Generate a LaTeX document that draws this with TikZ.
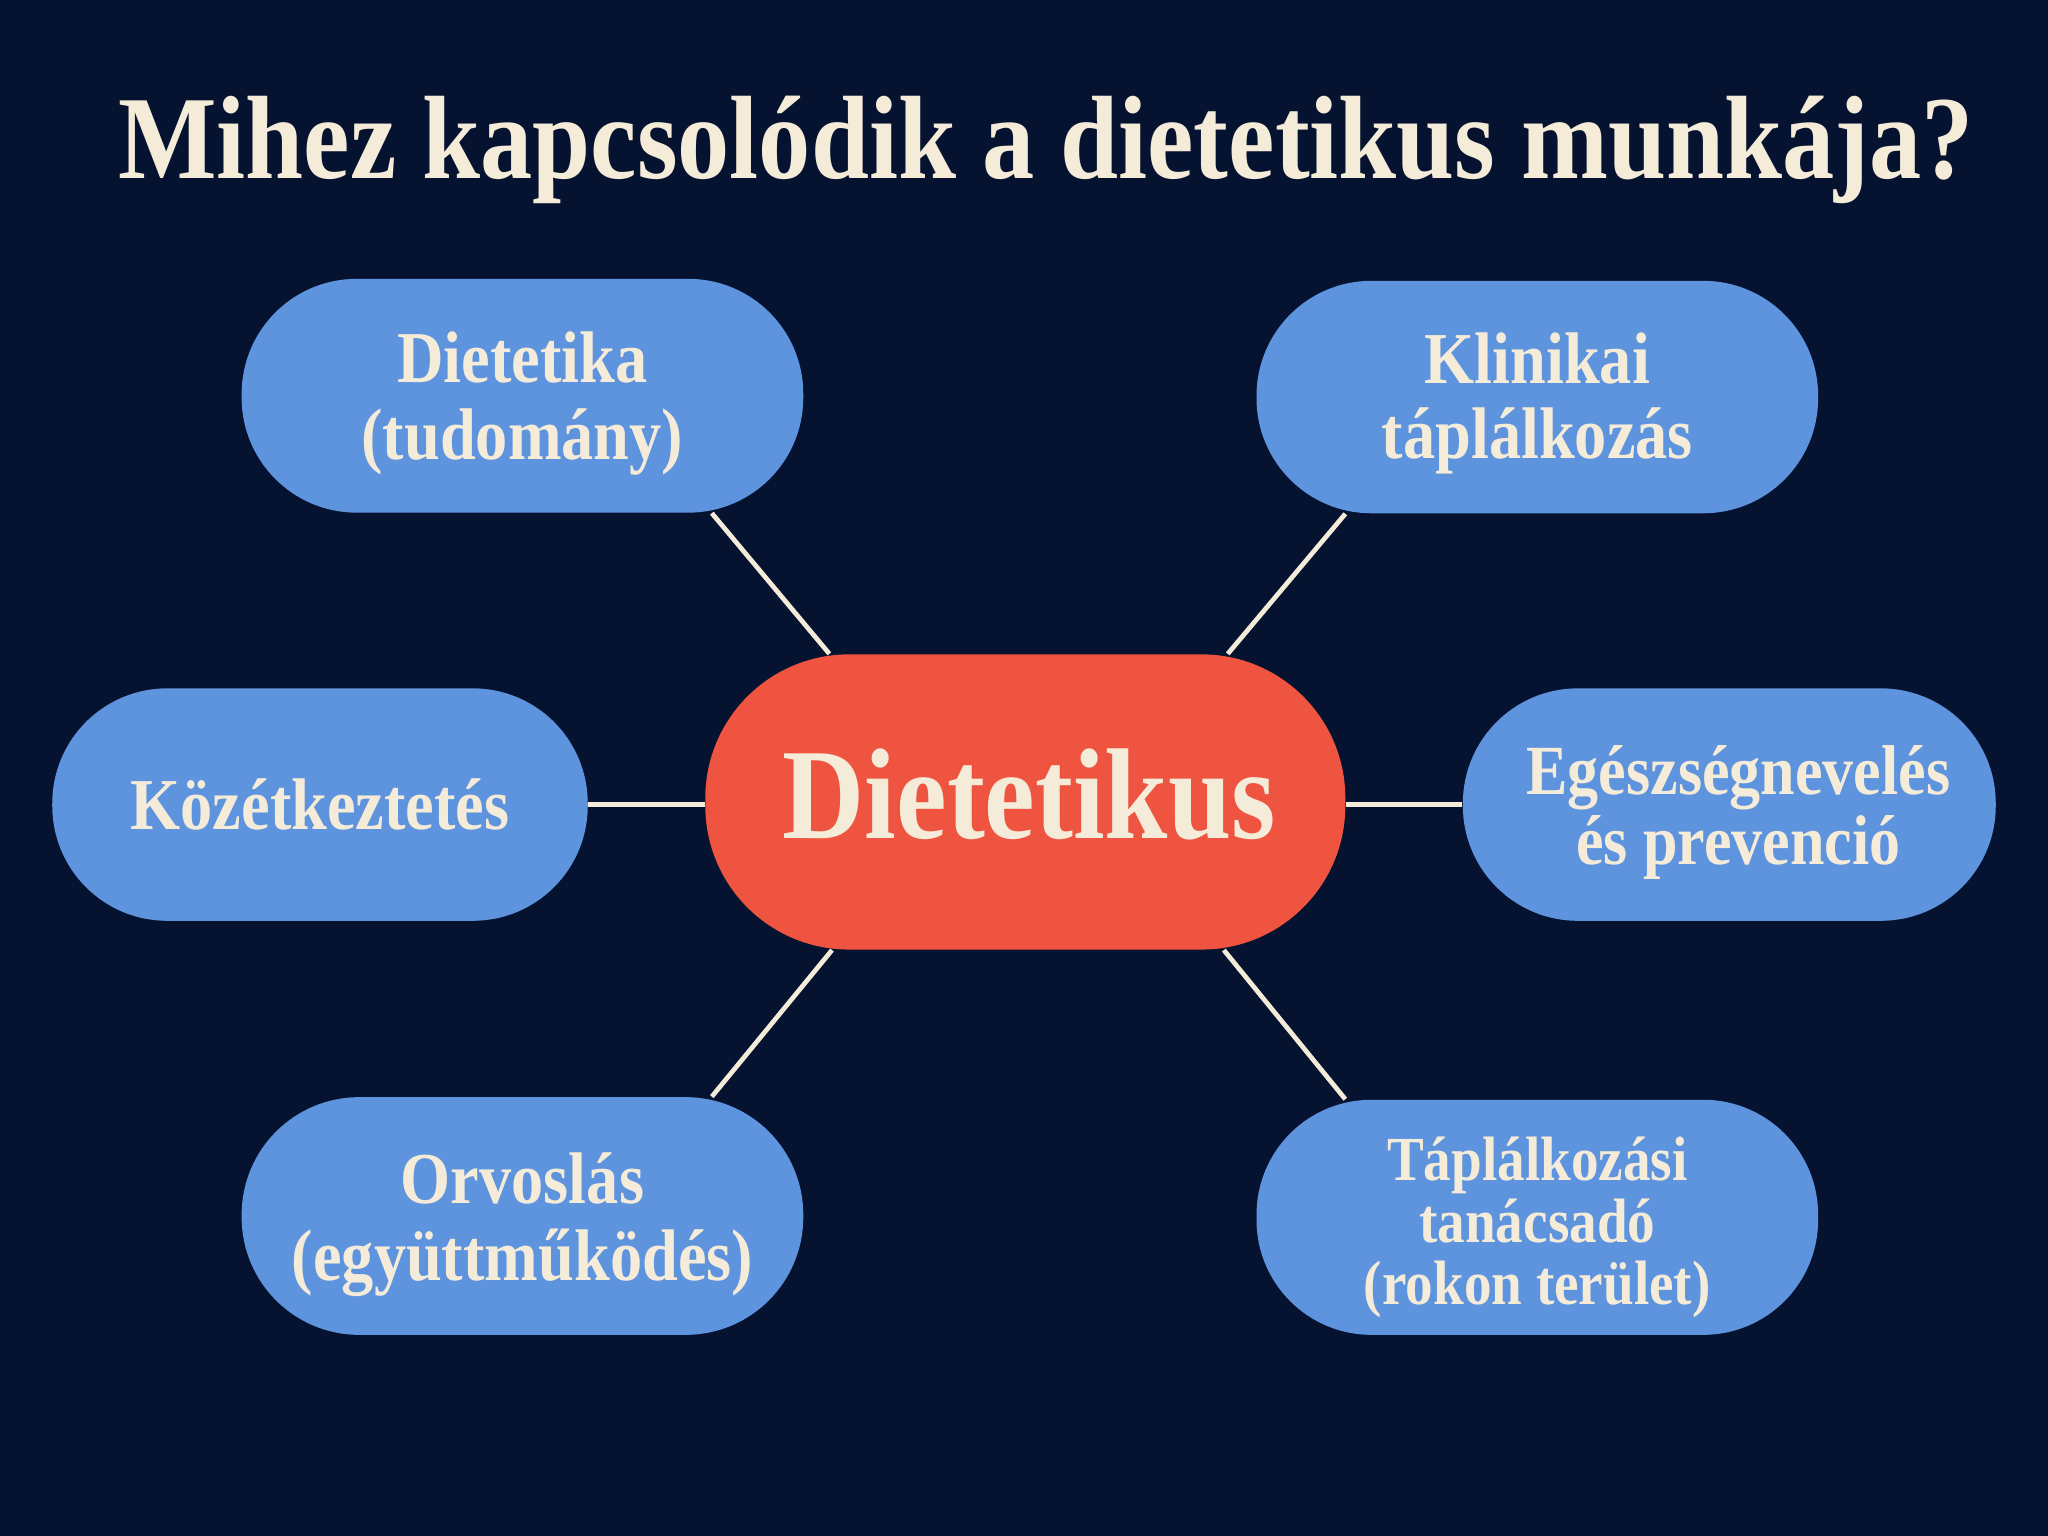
\documentclass[tikz,border=0pt]{standalone}
\usepackage{fontspec}
\setmainfont[FakeStretch=0.88]{Liberation Serif}
\usetikzlibrary{calc}
\definecolor{bgnavy}{HTML}{061330}
\definecolor{boxblue}{HTML}{5E94DE}
\definecolor{boxred}{HTML}{EE5440}
\definecolor{cream}{HTML}{F4EBD8}
\newcommand{\pilltxt}[3][0pt]{\raisebox{#2}[\height][\depth]{\begin{tabular}{@{\hspace{#1}}c@{}}#3\end{tabular}}}
\tikzset{
  pill/.style={fill=boxblue, draw=none, inner sep=0pt, align=center, text=cream,
    font=\bfseries\fontsize{28}{29.3}\selectfont},
  hub/.style={fill=boxred, draw=none, inner sep=0pt, align=center, text=cream,
    font=\bfseries\fontsize{49.5}{50}\selectfont},
  conn/.style={draw=cream, line width=1.8pt}
}
\begin{document}
\begin{tikzpicture}[x=0.5pt,y=-0.5pt]
\fill[bgnavy] (0,0) rectangle (1568,1176);
\useasboundingbox (0,0) rectangle (1568,1176);
\node[anchor=base, text=cream, font=\bfseries\fontsize{45.4}{46}\selectfont] (title) at (801,137) {Mihez kapcsolódik a dietetikus munkája?};

\node[hub, minimum width=245pt, minimum height=113pt, rounded corners=55pt, text depth=6pt] (c) at (785,614) {\hspace{3pt}Dietetikus};

\node[pill, minimum width=215pt, minimum height=89.5pt, rounded corners=44pt] (dt) at (400,303) {\pilltxt{-3.9pt}{Dietetika\\(tudomány)}};
\node[pill, minimum width=215pt, minimum height=89pt, rounded corners=44pt, font=\bfseries\fontsize{28}{28.8}\selectfont] (kl) at (1177,304) {\pilltxt{-3.3pt}{Klinikai\\táplálkozás}};
\node[pill, minimum width=205pt, minimum height=89pt, rounded corners=44pt] (kz) at (245,616) {Közétkeztetés};
\node[pill, minimum width=204pt, minimum height=89pt, rounded corners=44pt, font=\bfseries\fontsize{27}{26.8}\selectfont] (eg) at (1324,616) {\pilltxt[7pt]{-4.1pt}{Egészségnevelés\\és prevenció}};
\node[pill, minimum width=215pt, minimum height=91pt, rounded corners=45pt] (ov) at (400,931) {\pilltxt{-4pt}{Orvoslás\\(együttműködés)}};
\node[pill, minimum width=215pt, minimum height=90pt, rounded corners=44pt, font=\bfseries\fontsize{24}{23.3}\selectfont] (tp) at (1177,932) {\pilltxt{-4.7pt}{Táplálkozási\\tanácsadó\\(rokon terület)}};

\draw[conn] ($(dt.south)+(145,0)$) -- ($(c.north)+(-150,0)$);
\draw[conn] ($(kl.south)+(-147,0)$) -- ($(c.north)+(155,0)$);
\draw[conn] (kz.east) -- (kz.east -| c.west);
\draw[conn] (eg.west -| c.east) -- (eg.west);
\draw[conn] ($(ov.north)+(145,0)$) -- ($(c.south)+(-148,0)$);
\draw[conn] ($(tp.north)+(-147,0)$) -- ($(c.south)+(152,0)$);
\end{tikzpicture}
\end{document}
